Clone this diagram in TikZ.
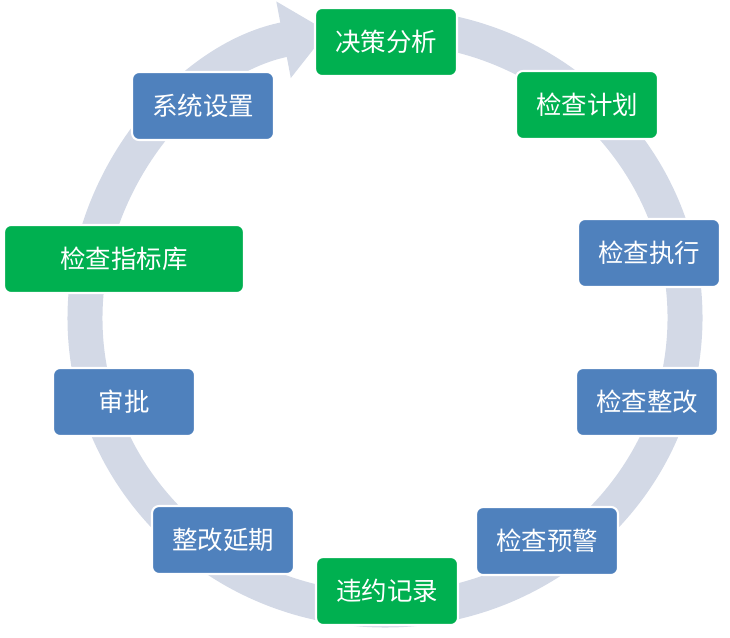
\documentclass[tikz,border=0pt]{standalone}
\usepackage{fontspec}
\setmainfont{Noto Sans CJK SC}
\usetikzlibrary{arrows.meta}
\definecolor{stepgreen}{HTML}{00B050}
\definecolor{stepblue}{HTML}{4F81BD}
\definecolor{ringgray}{HTML}{D3D9E6}
\begin{document}
\begin{tikzpicture}[
x=0.02cm,y=0.02cm,
box/.style={
  draw=white,
  line width=1.2pt,
  rounded corners=4pt,
  minimum width=2.84cm,
  minimum height=1.36cm,
  text=white,
  font=\fontsize{14.5pt}{16pt}\selectfont
},
gbox/.style={box,fill=stepgreen},
bbox/.style={box,fill=stepblue}
]
\useasboundingbox (0,0) rectangle (730,637);
% ring
\draw[ringgray,line width=0.7cm,-{Triangle[length=0.9cm,width=1.5cm]}]
  (385,319) ++(85:300 and 292) arc[start angle=85,end angle=-259,x radius=300,y radius=292];
% steps
\node[gbox] (plan) at (386,595) {决策分析};
\node[gbox] (check) at (587,532) {检查计划};
\node[bbox] (exec) at (649,384) {检查执行};
\node[bbox] (fix) at (647,235) {检查整改};
\node[bbox] (warn) at (547,96) {检查预警};
\node[gbox] (breach) at (387,46) {违约记录};
\node[bbox] (delay) at (223,97) {整改延期};
\node[bbox] (approve) at (124,235) {审批};
\node[gbox,minimum width=4.8cm] (index) at (124,378) {检查指标库};
\node[bbox] (setup) at (203,531) {系统设置};
\end{tikzpicture}
\end{document}
